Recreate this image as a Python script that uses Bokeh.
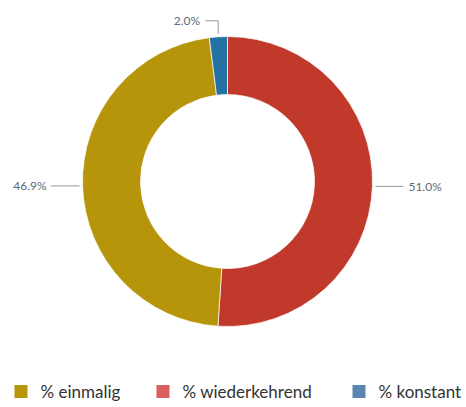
import math
from bokeh.plotting import figure
from bokeh.models import Range1d, ColumnDataSource
from bokeh.core.properties import value
from bokeh.embed import file_html
from bokeh.resources import INLINE

# Data (clockwise from top)
categories = ["% wiederkehrend", "% einmalig", "% konstant"]
shares = [51.0, 46.9, 2.0]
slice_colors = ["#c0392b", "#b7950b", "#2471a3"]
label_texts = ["51.0%", "46.9%", "2.0%"]

legend_order = ["% einmalig", "% wiederkehrend", "% konstant"]
legend_colors = ["#b8960c", "#d9605e", "#5b85b2"]

W, H = 466, 407
p = figure(width=W, height=H, output_backend="svg", toolbar_location=None,
           x_range=Range1d(0, W), y_range=Range1d(0, H), min_border=0)
p.axis.visible = False
p.grid.visible = False
p.outline_line_color = None
p.background_fill_color = "white"
p.border_fill_color = "white"

cx, cy = 227, 226
r_out, r_in = 145, 87

total = sum(shares)
starts, ends, mids = [], [], []
cum = 0.0
for s in shares:
    a0 = math.pi / 2 - 2 * math.pi * cum / total
    cum += s
    a1 = math.pi / 2 - 2 * math.pi * cum / total
    starts.append(a0)
    ends.append(a1)
    mids.append((a0 + a1) / 2)

src = ColumnDataSource(dict(start=starts, end=ends, color=slice_colors, cat=categories))
p.annular_wedge(x=cx, y=cy, inner_radius=r_in, outer_radius=r_out,
                start_angle="start", end_angle="end", direction="clock",
                fill_color="color", line_color="white", line_width=0.7, source=src)

# Data labels with leader lines
lab_font = value("Lato")
lab_color = "#606a78"
line_color = "#999999"
for txt, m in zip(label_texts, mids):
    ex = cx + (r_out + 3) * math.cos(m)
    ey = cy + (r_out + 3) * math.sin(m)
    if math.cos(m) > 0.5:
        p.line([ex, ex + 28], [ey, ey], line_color=line_color, line_width=1)
        p.text([ex + 33], [ey], text=[txt], text_font=lab_font, text_font_size="12px",
               text_color=lab_color, text_align="left", text_baseline="middle")
    elif math.cos(m) < -0.5:
        p.line([ex, ex - 29], [ey, ey], line_color=line_color, line_width=1)
        p.text([ex - 33], [ey], text=[txt], text_font=lab_font, text_font_size="12px",
               text_color=lab_color, text_align="right", text_baseline="middle")
    else:
        ty = ey + 13
        p.line([ex, ex, ex - 13], [ey, ty, ty], line_color=line_color, line_width=1)
        p.text([ex - 18], [ty], text=[txt], text_font=lab_font, text_font_size="12px",
               text_color=lab_color, text_align="right", text_baseline="middle")

# Legend
leg_x = [20.5, 162.5, 358.5]
leg_y = 16
p.rect(x=leg_x, y=[leg_y] * 3, width=13, height=13,
       fill_color=legend_colors, line_color=None)
p.text(x=[x + 19.5 for x in leg_x], y=[leg_y] * 3, text=legend_order,
       text_font=value("Lato"), text_font_size="17px", text_color="#333333",
       text_align="left", text_baseline="middle")

open("out.html", "w").write(file_html(p, INLINE))
